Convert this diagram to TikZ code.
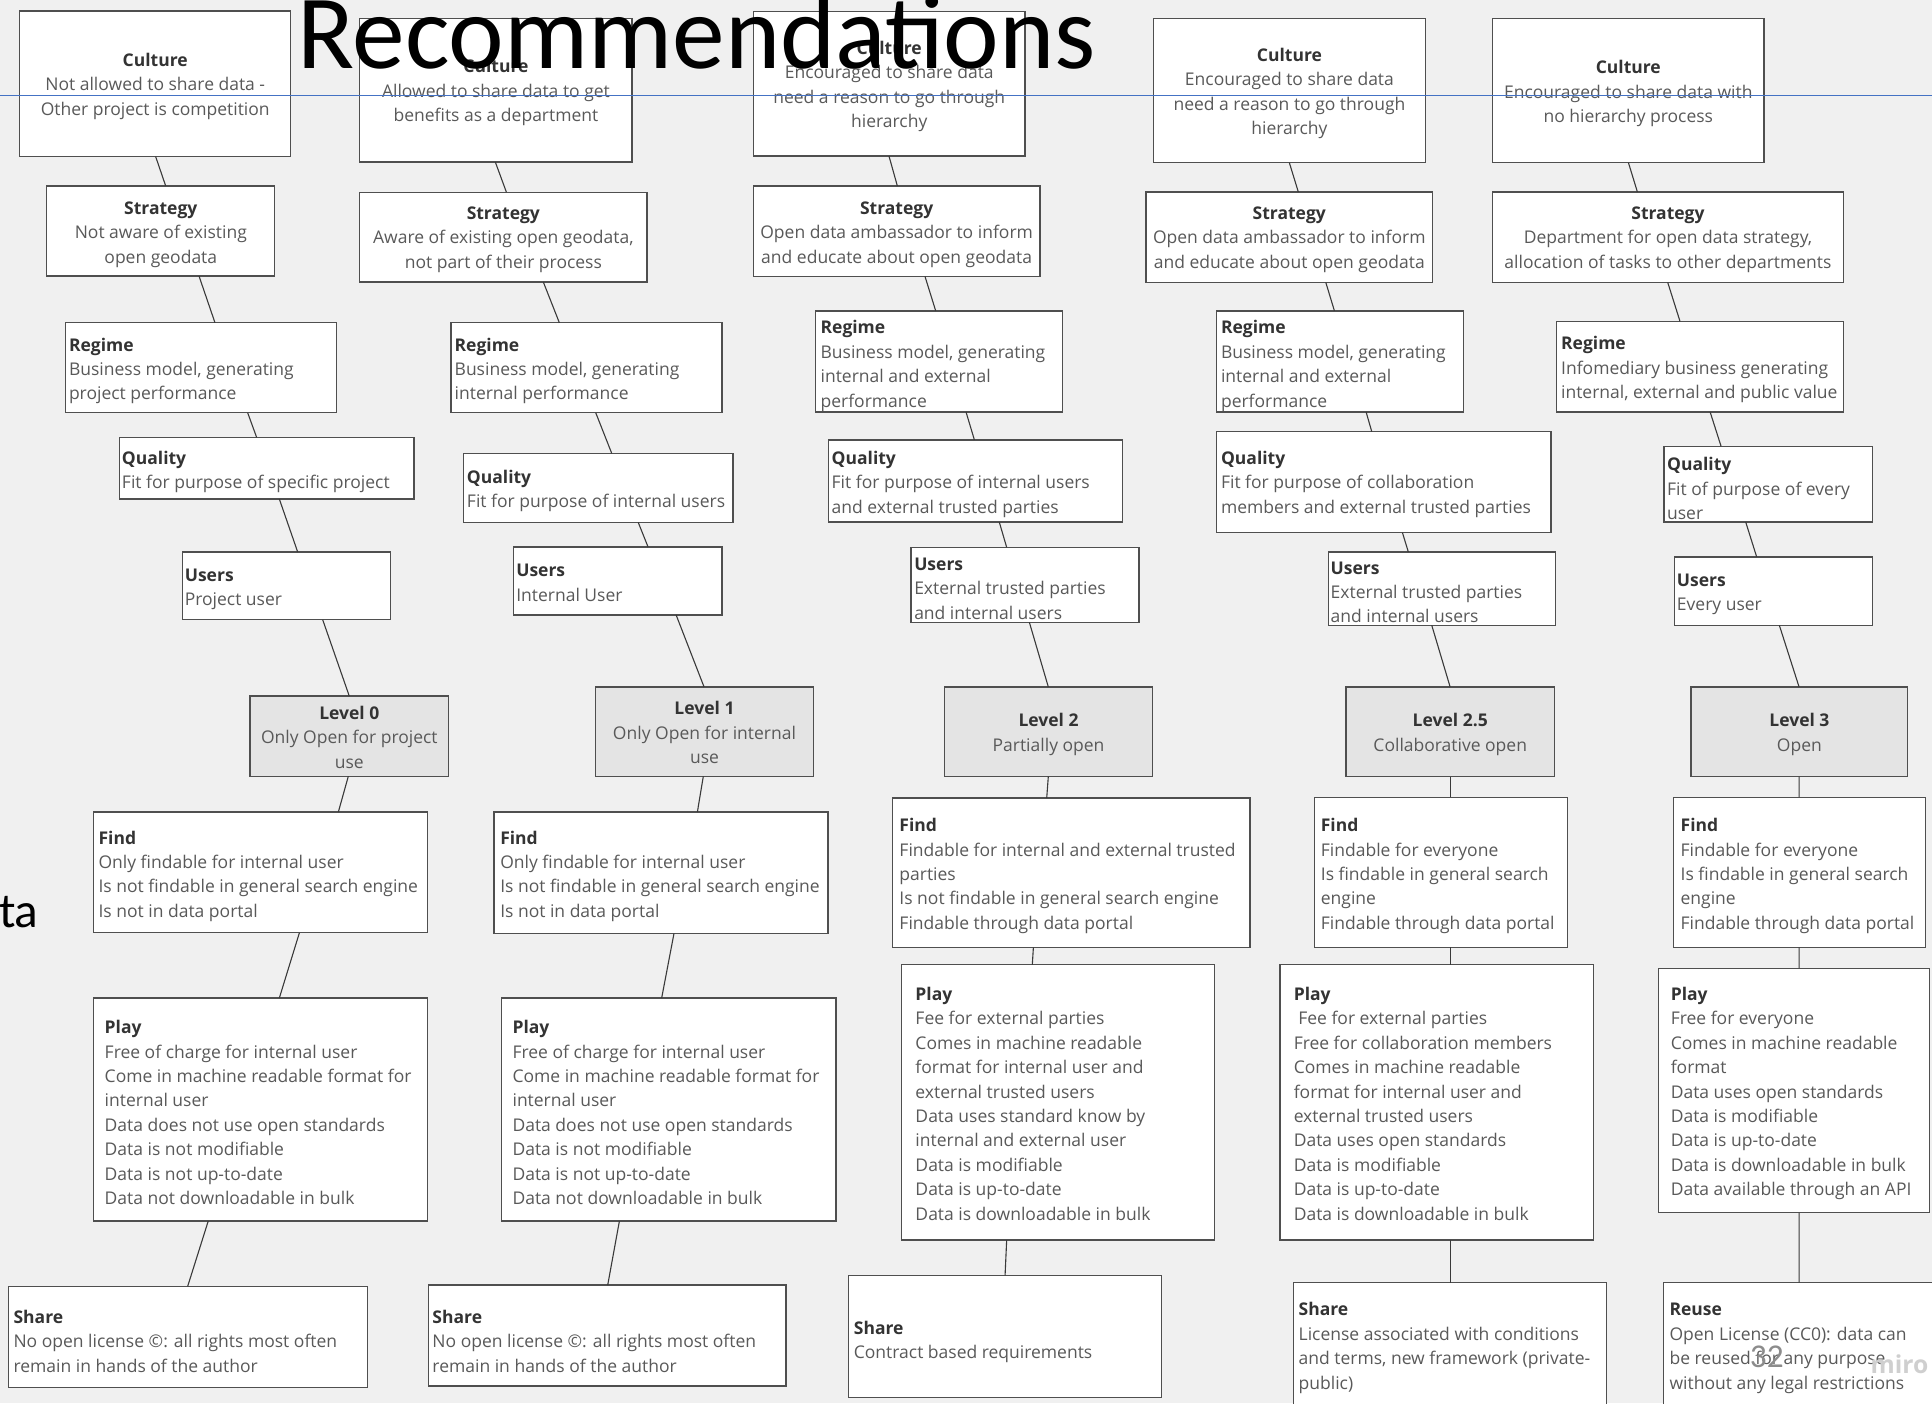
\documentclass[tikz,border=0pt]{standalone}
\usepackage{fontspec}
\newfontfamily\osans{Open Sans}
\newfontfamily\calib{Carlito}

\definecolor{bgc}{HTML}{F0F0F0}
\definecolor{lvlfill}{HTML}{E4E4E4}
\definecolor{framec}{HTML}{4F4F4F}
\definecolor{wirec}{HTML}{3A3A3A}
\definecolor{bodytxt}{HTML}{595959}
\definecolor{headtxt}{HTML}{333333}
\definecolor{guidec}{HTML}{4472C4}
\definecolor{pagenum}{HTML}{8C8C8C}
\definecolor{markc}{HTML}{CFCFCF}

\tikzset{
  box/.style={fill=white, draw=none, inner sep=0pt, outer sep=0pt, anchor=north west},
  lvl/.style={box, fill=lvlfill},
  frame/.style={draw=framec, line width=1.1pt},
  wire/.style={draw=wirec, line width=0.9pt},
  txtbase/.style={inner sep=0pt, outer sep=0pt, text=bodytxt,
    font={\osans\fontsize{14.2}{19.8}\selectfont}},
  txtc/.style={txtbase, align=center, anchor=north},
  txtl/.style={txtbase, align=left, anchor=north west},
  guide/.style={draw=guidec, line width=0.8pt},
}

% bold heading line of a card
\newcommand\hd[1]{{\bfseries\color{headtxt}\rule{0pt}{11pt}#1}}

% card: style, name, x1, y1, x2, y2, text style, text anchor point, text
\newcommand\panel[9]{%
  \node[#1, minimum width={#5-#3}, minimum height={#6-#4}] (#2) at (#3,#4) {};
  \begin{scope}
    \clip ([xshift=0.6pt,yshift=0.6pt]#2.south west) rectangle ([xshift=-0.6pt,yshift=-0.6pt]#2.north east);
    \node[#7, yshift=-1.5pt] (#2-t) at #8 {#9};
  \end{scope}
  \draw[frame] (#2.south west) rectangle (#2.north east);
}

% connector from the bottom edge of one card to the top edge of the next
\newcommand\link[4]{\draw[wire] ([xshift=#2pt]#1.south west) -- ([xshift=#4pt]#3.north west);}

\begin{document}
\begin{tikzpicture}[x=1pt,y=-1pt]
\useasboundingbox (0,0) rectangle (1568,1139);
\fill[bgc] (0,0) rectangle (1568,1139);

% ---------- column 1 ----------
\panel{box}{c1a}{16}{9}{236}{127}{txtc}{(126,41.5)}{\hd{Culture}\\Not allowed to share data -\\Other project is competition}
\panel{box}{c1b}{38}{151}{223}{224}{txtc}{(130.5,161.5)}{\hd{Strategy}\\Not aware of existing\\open geodata}
\panel{box}{c1c}{53}{262}{273}{335}{txtl}{(56,272.5)}{\hd{Regime}\\Business model, generating\\project performance}
\panel{box}{c1d}{97}{355}{336}{405}{txtl}{(99,364.5)}{\hd{Quality}\\Fit for purpose of specific project}
\panel{box}{c1e}{148}{448}{317}{503}{txtl}{(150,459.5)}{\hd{Users}\\Project user}
\panel{lvl}{c1f}{203}{565}{364}{630}{txtc}{(283.5,571.5)}{\hd{Level 0}\\Only Open for project\\use}
\panel{box}{c1g}{76}{659}{347}{757}{txtl}{(80,672.5)}{\hd{Find}\\Only findable for internal user\\Is not findable in general search engine\\Is not in data portal}
\panel{box}{c1h}{76}{810}{347}{991}{txtl}{(85,826.5)}{\hd{Play}\\Free of charge for internal user\\Come in machine readable format for\\internal user\\Data does not use open standards\\Data is not modifiable\\Data is not up-to-date\\Data not downloadable in bulk}
\panel{box}{c1i}{7}{1044}{298}{1126}{txtl}{(11,1061.5)}{\hd{Share}\\No open license ©: all rights most often\\remain in hands of the author}

\link{c1a}{110.3}{c1b}{96.5}
\link{c1b}{123.5}{c1c}{121.5}
\link{c1c}{148}{c1d}{111.3}
\link{c1d}{129.7}{c1e}{93.6}
\link{c1e}{113.9}{c1f}{80.5}
\link{c1f}{79.7}{c1g}{198.6}
\link{c1g}{167}{c1h}{150.7}
\link{c1h}{93}{c1i}{145.3}

% ---------- column 2 ----------
\panel{box}{c2a}{292}{15}{513}{131.5}{txtc}{(402.5,46.5)}{\hd{Culture}\\Allowed to share data to get\\benefits as a department}
\panel{box}{c2b}{292}{156}{525}{229}{txtc}{(408.5,165.5)}{\hd{Strategy}\\Aware of existing open geodata,\\not part of their process}
\panel{box}{c2c}{366}{262}{586}{335}{txtl}{(369,272.5)}{\hd{Regime}\\Business model, generating\\internal performance}
\panel{box}{c2d}{376}{368}{595}{424}{txtl}{(379,379.5)}{\hd{Quality}\\Fit for purpose of internal users}
\panel{box}{c2e}{417}{444}{586}{499}{txtl}{(419,455.5)}{\hd{Users}\\Internal User}
\panel{lvl}{c2f}{483.5}{557.5}{660}{630}{txtc}{(571.75,567.5)}{\hd{Level 1}\\Only Open for internal\\use}
\panel{box}{c2g}{401}{659}{672}{757.6}{txtl}{(406,672.5)}{\hd{Find}\\Only findable for internal user\\Is not findable in general search engine\\Is not in data portal}
\panel{box}{c2h}{407}{810}{678.5}{991}{txtl}{(416,826.5)}{\hd{Play}\\Free of charge for internal user\\Come in machine readable format for\\internal user\\Data does not use open standards\\Data is not modifiable\\Data is not up-to-date\\Data not downloadable in bulk}
\panel{box}{c2i}{347.6}{1043}{638}{1125}{txtl}{(351,1061.5)}{\hd{Share}\\No open license ©: all rights most often\\remain in hands of the author}

\link{c2a}{110}{c2b}{119}
\link{c2b}{149}{c2c}{88}
\link{c2c}{117.5}{c2d}{120.5}
\link{c2d}{142}{c2e}{109}
\link{c2e}{131.7}{c2f}{87.9}
\link{c2f}{87.3}{c2g}{165}
\link{c2g}{146}{c2h}{130}
\link{c2h}{95.7}{c2i}{145.6}

% ---------- column 3 ----------
\panel{box}{c3a}{611.4}{9.3}{832}{126.7}{txtc}{(721.7,31.5)}{\hd{Culture}\\Encouraged to share data\\need a reason to go through\\hierarchy}
\panel{box}{c3b}{611.4}{151}{844}{224.3}{txtc}{(727.7,161.5)}{\hd{Strategy}\\Open data ambassador to inform\\and educate about open geodata}
\panel{box}{c3c}{662}{252.3}{862.5}{334.3}{txtl}{(666,258.5)}{\hd{Regime}\\Business model, generating\\internal and external\\performance}
\panel{box}{c3d}{672.3}{357}{911.2}{423.7}{txtl}{(675,364.5)}{\hd{Quality}\\Fit for purpose of internal users\\and external trusted parties}
\panel{box}{c3e}{739.4}{444.2}{924.4}{505}{txtl}{(742,450.5)}{\hd{Users}\\External trusted parties\\and internal users}
\panel{lvl}{c3f}{766.4}{557.5}{935.5}{630.2}{txtc}{(851,577.5)}{\hd{Level 2}\\Partially open}
\panel{box}{c3g}{724.2}{647.7}{1014.5}{768.8}{txtl}{(730,662.5)}{\hd{Find}\\Findable for internal and external trusted\\parties\\Is not findable in general search engine\\Findable through data portal}
\panel{box}{c3h}{731.8}{783}{985.6}{1006.5}{txtl}{(743,799.5)}{\hd{Play}\\Fee for external parties\\Comes in machine readable\\format for internal user and\\external trusted users\\Data uses standard know by\\internal and external user\\Data is modifiable\\Data is up-to-date\\Data is downloadable in bulk}
\panel{box}{c3i}{688.5}{1035.2}{942.8}{1134}{txtl}{(693,1070.5)}{\hd{Share}\\Contract based requirements}

\link{c3a}{110.1}{c3b}{116.9}
\link{c3b}{139.3}{c3c}{97.4}
\link{c3c}{122}{c3d}{118.5}
\link{c3d}{138.7}{c3e}{77.6}
\link{c3e}{96}{c3f}{84.4}
\link{c3f}{84.4}{c3g}{125.3}
\link{c3g}{114.5}{c3h}{106}
\link{c3h}{85.2}{c3i}{127.2}

% ---------- column 4 ----------
\panel{box}{c4a}{936}{15}{1157}{132}{txtc}{(1046.5,37.5)}{\hd{Culture}\\Encouraged to share data\\need a reason to go through\\hierarchy}
\panel{box}{c4b}{930}{155.8}{1162.8}{229.2}{txtc}{(1046.4,165.5)}{\hd{Strategy}\\Open data ambassador to inform\\and educate about open geodata}
\panel{box}{c4c}{987.5}{252.3}{1187.7}{334.3}{txtl}{(991,258.5)}{\hd{Regime}\\Business model, generating\\internal and external\\performance}
\panel{box}{c4d}{987.5}{350.3}{1258.8}{432.3}{txtl}{(991,364.5)}{\hd{Quality}\\Fit for purpose of collaboration\\members and external trusted parties}
\panel{box}{c4e}{1078}{448}{1262.6}{507.5}{txtl}{(1080,453.5)}{\hd{Users}\\External trusted parties\\and internal users}
\panel{lvl}{c4f}{1092.5}{557.5}{1261.5}{630.2}{txtc}{(1177,577.5)}{\hd{Level 2.5}\\Collaborative open}
\panel{box}{c4g}{1066.7}{647}{1272.1}{768.8}{txtl}{(1072,662.5)}{\hd{Find}\\Findable for everyone\\Is findable in general search\\engine\\Findable through data portal}
\panel{box}{c4h}{1038.9}{783}{1293.2}{1006.5}{txtl}{(1050,799.5)}{\hd{Play}\\\hspace*{0.26em}Fee for external parties\\Free for collaboration members\\Comes in machine readable\\format for internal user and\\external trusted users\\Data uses open standards\\Data is modifiable\\Data is up-to-date\\Data is downloadable in bulk}
\panel{box}{c4i}{1049.7}{1041}{1304}{1150}{txtl}{(1054,1055.5)}{\hd{Share}\\License associated with conditions\\and terms, new framework (private-\\public)}

\link{c4a}{110.4}{c4b}{123.7}
\link{c4b}{146}{c4c}{95.5}
\link{c4c}{121.2}{c4d}{125.8}
\link{c4d}{150.7}{c4e}{65}
\link{c4e}{84}{c4f}{84.4}
\link{c4f}{84.5}{c4g}{110.3}
\link{c4g}{110.3}{c4h}{138.1}
\link{c4h}{138.1}{c4i}{127.3}

% ---------- column 5 ----------
\panel{box}{c5a}{1211.2}{15}{1431.7}{132}{txtc}{(1321.5,47.5)}{\hd{Culture}\\Encouraged to share data with\\no hierarchy process}
\panel{box}{c5b}{1211.2}{155.8}{1496.1}{229.2}{txtc}{(1353.7,165.5)}{\hd{Strategy}\\Department for open data strategy,\\allocation of tasks to other departments}
\panel{box}{c5c}{1263.4}{260.9}{1496.1}{334.3}{txtl}{(1267,271.5)}{\hd{Regime}\\Infomediary business generating\\internal, external and public value}
\panel{box}{c5d}{1350.5}{362.2}{1519.6}{423.7}{txtl}{(1353,369.5)}{\hd{Quality}\\Fit of purpose of every\\user}
\panel{box}{c5e}{1358.9}{452}{1519.6}{507.5}{txtl}{(1361,463.5)}{\hd{Users}\\Every user}
\panel{lvl}{c5f}{1372.4}{557.5}{1548.3}{630.2}{txtc}{(1460.4,577.5)}{\hd{Level 3}\\Open}
\panel{box}{c5g}{1358.1}{647}{1562.9}{768.8}{txtl}{(1364,662.5)}{\hd{Find}\\Findable for everyone\\Is findable in general search\\engine\\Findable through data portal}
\panel{box}{c5h}{1345.9}{786}{1566}{984.2}{txtl}{(1356,799.5)}{\hd{Play}\\Free for everyone\\Comes in machine readable\\format\\Data uses open standards\\Data is modifiable\\Data is up-to-date\\Data is downloadable in bulk\\Data available through an API}
\panel{box}{c5i}{1350}{1041}{1575}{1150}{txtl}{(1355,1055.5)}{\hd{Reuse}\\Open License (CC0): data can\\be reused for any purpose\\without any legal restrictions}

\link{c5a}{110.4}{c5b}{117.7}
\link{c5b}{142.3}{c5c}{100.1}
\link{c5c}{124.5}{c5d}{46.3}
\link{c5d}{66.3}{c5e}{66.8}
\link{c5e}{85.2}{c5f}{87.7}
\link{c5f}{87.7}{c5g}{102}
\link{c5g}{102}{c5h}{114.2}
\link{c5h}{114.2}{c5i}{110.1}

% ---------- slide furniture ----------
\node[inner sep=0pt, anchor=base west, font={\calib\fontsize{85.5}{85.5}\selectfont}] (title) at (241,56) {Recommendations};
\node[inner sep=0pt, anchor=base west, font={\calib\fontsize{40}{40}\selectfont}] (frag) at (-1,753) {ta};
\coordinate (guideL) at (0,77.5);
\coordinate (guideR) at (1568,77.5);
\draw[guide] (guideL) -- (guideR);
\node[inner sep=0pt, anchor=base west, text=pagenum, font={\calib\fontsize{27}{27}\selectfont}] (pnum) at (1420,1109.5) {32};
\node[inner sep=0pt, anchor=base west, text=markc, font={\osans\bfseries\fontsize{20}{20}\selectfont}] (mark) at (1518,1115) {miro};
\end{tikzpicture}
\end{document}
